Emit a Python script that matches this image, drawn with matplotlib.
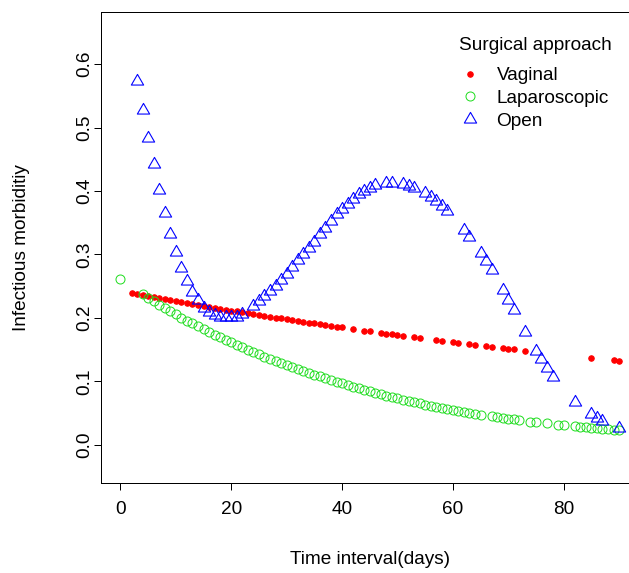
import matplotlib
matplotlib.use("Agg")
import matplotlib.pyplot as plt
from matplotlib.path import Path

plt.rcParams["font.family"] = ["Liberation Sans", "DejaVu Sans"]

# vaginal (red dots)
vag_x = list(range(2, 41)) + [42, 44, 45, 47, 48, 49, 50, 51, 53, 54, 57, 58, 60, 61,
                               63, 64, 66, 67, 69, 70, 71, 73, 85, 89, 90]
vag_y = [0.2388, 0.2372, 0.2356, 0.2340, 0.2325, 0.2309, 0.2294, 0.2278, 0.2263, 0.2248,
         0.2233, 0.2218, 0.2203, 0.2189, 0.2174, 0.2160, 0.2145, 0.2131, 0.2117, 0.2102,
         0.2088, 0.2074, 0.2061, 0.2047, 0.2033, 0.2020, 0.2006, 0.1993, 0.1979, 0.1966,
         0.1953, 0.1940, 0.1927, 0.1914, 0.1901, 0.1889, 0.1876, 0.1864, 0.1851,
         0.1827, 0.1802, 0.1790, 0.1766, 0.1755, 0.1743, 0.1731, 0.1720, 0.1697, 0.1685,
         0.1652, 0.1641, 0.1619, 0.1608, 0.1587, 0.1576, 0.1555, 0.1545, 0.1524, 0.1514,
         0.1504, 0.1484, 0.1369, 0.1333, 0.1324]

# laparoscopic (green circles)
lap_x = [0] + list(range(4, 66)) + [67, 68, 69, 70, 71, 72, 74, 75, 77, 79, 80,
                                    82, 83, 84, 85, 86, 87, 88, 89, 90]
lap_y = [0.261,
         0.2370, 0.2314, 0.2260, 0.2207, 0.2155, 0.2104, 0.2055, 0.2006, 0.1959, 0.1913,
         0.1868, 0.1824, 0.1781, 0.1739, 0.1698, 0.1658, 0.1619, 0.1578, 0.1539, 0.1500,
         0.1463, 0.1426, 0.1390, 0.1355, 0.1321, 0.1288, 0.1256, 0.1224, 0.1194, 0.1164,
         0.1135, 0.1106, 0.1078, 0.1051, 0.1025, 0.0999, 0.0974, 0.0947, 0.0920, 0.0894,
         0.0869, 0.0844, 0.0821, 0.0797, 0.0775, 0.0753, 0.0732, 0.0711, 0.0691, 0.0672,
         0.0653, 0.0634, 0.0616, 0.0599, 0.0582, 0.0566, 0.0550, 0.0534, 0.0519, 0.0505,
         0.0490, 0.0477,
         0.0450, 0.0437, 0.0425, 0.0413, 0.0401, 0.0390, 0.0368, 0.0358, 0.0338, 0.0319,
         0.0310, 0.0292, 0.0283, 0.0275, 0.0267, 0.0259, 0.0251, 0.0244, 0.0237, 0.0230]

# open (blue triangles)
open_x = [3, 4, 5, 6, 7, 8, 9, 10, 11, 12, 13, 14, 15, 16, 17, 18, 19, 20, 21, 22,
          24, 25, 26, 27, 28, 29, 30, 31, 32, 33, 34, 35, 36, 37, 38, 39, 40, 41, 42, 43,
          44, 45, 46, 48, 49, 51, 52, 53, 55, 56, 57, 58, 59, 62, 63, 65, 66, 67, 69, 70,
          71, 73, 75, 76, 77, 78, 82, 85, 86, 87, 90]
open_y = [0.573, 0.528, 0.484, 0.442, 0.401, 0.365, 0.333, 0.304, 0.279, 0.259,
          0.241, 0.228, 0.216, 0.210, 0.205, 0.202, 0.201, 0.201, 0.202, 0.207,
          0.219, 0.226, 0.234, 0.242, 0.251, 0.260, 0.270, 0.280, 0.291, 0.300,
          0.310, 0.320, 0.332, 0.342, 0.353, 0.363, 0.372, 0.380, 0.388, 0.395,
          0.400, 0.405, 0.409, 0.412, 0.413, 0.411, 0.408, 0.405, 0.397, 0.391,
          0.384, 0.377, 0.368, 0.339, 0.327, 0.302, 0.290, 0.275, 0.244, 0.229,
          0.213, 0.178, 0.148, 0.135, 0.121, 0.107, 0.068, 0.048, 0.043, 0.038, 0.027]

x_ticks = [0, 20, 40, 60, 80]
y_ticks = [0.0, 0.1, 0.2, 0.3, 0.4, 0.5, 0.6]

W, H = 629, 573
FS = 19
fig = plt.figure(figsize=(W / 72, H / 72), dpi=72)
# plot region runs past the right edge of the picture, as in the reference
ax = fig.add_axes([100.5 / W, (H - 483) / H, (639 - 100.5) / W, (483 - 12) / H])

# closed triangle centred on its centroid (like R's pch = 2)
tri = Path([(0, 1), (-0.866, -0.5), (0.866, -0.5), (0, 1)],
           [Path.MOVETO, Path.LINETO, Path.LINETO, Path.CLOSEPOLY])

ax.plot(vag_x, vag_y, ls="none", marker="o", ms=5.5, color="#FF0000",
        mec="#FF0000", label="Vaginal")
ax.plot(lap_x, lap_y, ls="none", marker="o", ms=9, mfc="none", mec="#22DD22",
        mew=1.0, label="Laparoscopic")
ax.plot(open_x, open_y, ls="none", marker=tri, ms=14.2, mfc="none", mec="#0000FF",
        mew=1.1, label="Open")

ax.set_xlim(-3.6, 93.6)
ax.set_ylim(-0.06, 0.682)
ax.set_xticks(x_ticks)
ax.set_xticklabels([str(t) for t in x_ticks])
ax.set_yticks(y_ticks)
ax.set_yticklabels([f"{t:.1f}" for t in y_ticks], rotation=90, va="center")

ax.tick_params(length=7, width=1, labelsize=FS, direction="out", color="black")
ax.tick_params(axis="x", pad=11)
ax.tick_params(axis="y", pad=0)
for s in ax.spines.values():
    s.set_linewidth(1)

fig.text(370 / W, 1 - 560 / H, "Time interval(days)", ha="center", va="center",
         fontsize=FS)
fig.text(22 / W, 1 - 248 / H, "Infectious morbiditiy", ha="center", va="center",
         rotation=90, fontsize=FS)

# legend title drawn on its own, entries below it
fig.text(535 / W, 1 - 46 / H, "Surgical approach", ha="center", va="center",
         fontsize=FS)
leg = ax.legend(loc="upper left", bbox_to_anchor=(458.6 / W, 1 - 67 / H),
                bbox_transform=fig.transFigure, frameon=False, fontsize=FS,
                handlelength=1.2, handletextpad=0.8, labelspacing=0.28,
                borderpad=0, borderaxespad=0)

fig.savefig("out.png", dpi=72)
